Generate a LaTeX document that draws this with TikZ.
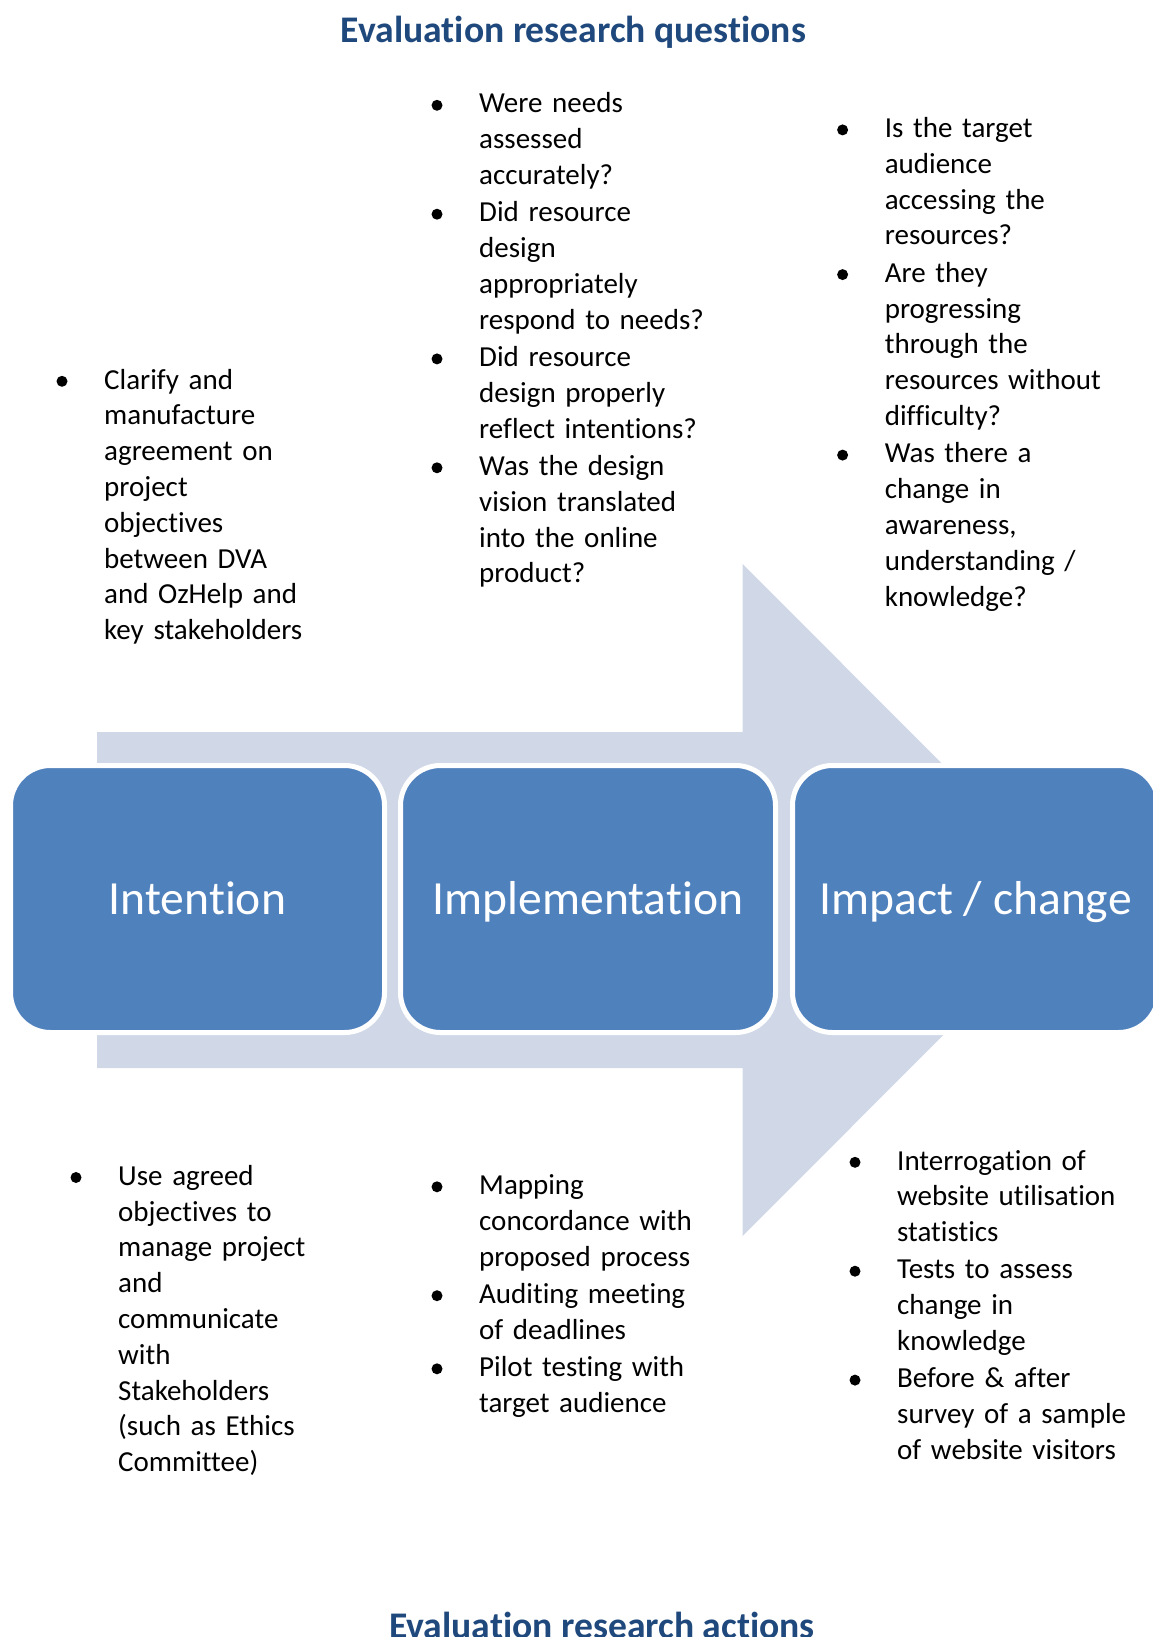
\documentclass[tikz,border=0pt]{standalone}
\usepackage{fontspec}
\setmainfont{Carlito}[Ligatures=NoCommon]
\definecolor{boxblue}{HTML}{4F81BD}
\definecolor{arrowfill}{HTML}{D0D8E8}
\definecolor{titleblue}{HTML}{1F497D}
% bullet dot in front of the first line of an item node
\newcommand\itemdot[1]{\fill (#1.base west) ++(-42,-7.7) circle[radius=5.5pt];}
\begin{document}
\begin{tikzpicture}[x=1pt,y=-1pt,
  stage/.style={draw=white, line width=5pt, fill=boxblue, rounded corners=40pt,
    minimum height=267pt, inner sep=0pt, text=white,
    font=\fontsize{47.6}{57}\selectfont, text height=30.3pt, text depth=0pt},
  itm/.style={anchor=base west, text width=420pt, align=left, inner sep=0pt,
    font=\fontsize{29}{35.8}\selectfont},
  heading/.style={anchor=base, text=titleblue, inner sep=0pt,
    font=\fontsize{37.6}{45}\selectfont\bfseries}]
\useasboundingbox (0,0) rectangle (1152,1637);
\fill[white] (0,0) rectangle (1152,1637);

% broad process arrow behind the stages
\fill[arrowfill] (97,732) -- (742.7,732) -- (742.7,564) -- (1078,900)
  -- (742.7,1236) -- (742.7,1068) -- (97,1068) -- cycle;

% the three stages
\node[stage, minimum width=374pt] (intention) at (197.5,899) {Intention};
\node[stage, minimum width=375pt] (implementation) at (588,899) {Implementation};
\node[stage, minimum width=366pt] (impact) at (975.5,899) {Impact / change};

% headings
\node[heading] (qtitle) at (573.5,43) {Evaluation research questions};
\node[heading] (atitle) at (602,1638) {Evaluation research actions};

% questions: intention
\node[itm] (q1a) at (104,389) {Clarify and\\manufacture\\agreement on\\project\\objectives\\between DVA\\and OzHelp and\\key stakeholders};
\itemdot{q1a}

% questions: implementation
\node[itm] (q2a) at (479,113) {Were needs\\assessed\\accurately?};
\node[itm] (q2b) at (479,221.9) {Did resource\\design\\appropriately\\respond to needs?};
\node[itm] (q2c) at (479,366.6) {Did resource\\design properly\\reflect intentions?};
\node[itm] (q2d) at (479,475.5) {Was the design\\vision translated\\into the online\\product?};
\itemdot{q2a}\itemdot{q2b}\itemdot{q2c}\itemdot{q2d}

% questions: impact
\node[itm] (q3a) at (884.6,137.6) {Is the target\\audience\\accessing the\\resources?};
\node[itm] (q3b) at (884.6,282.3) {Are they\\progressing\\through the\\resources without\\difficulty?};
\node[itm] (q3c) at (884.6,462.8) {Was there a\\change in\\awareness,\\understanding /\\knowledge?};
\itemdot{q3a}\itemdot{q3b}\itemdot{q3c}

% actions: intention
\node[itm] (a1a) at (118,1185.2) {Use agreed\\objectives to\\manage project\\and\\communicate\\with\\Stakeholders\\(such as Ethics\\Committee)};
\itemdot{a1a}

% actions: implementation
\node[itm] (a2a) at (479,1194.5) {Mapping\\concordance with\\proposed process};
\node[itm] (a2b) at (479,1303.4) {Auditing meeting\\of deadlines};
\node[itm] (a2c) at (479,1376.5) {Pilot testing with\\target audience};
\itemdot{a2a}\itemdot{a2b}\itemdot{a2c}

% actions: impact
\node[itm] (a3a) at (897,1170) {Interrogation of\\website utilisation\\statistics};
\node[itm] (a3b) at (897,1278.9) {Tests to assess\\change in\\knowledge};
\node[itm] (a3c) at (897,1387.8) {Before \& after\\survey of a sample\\of website visitors};
\itemdot{a3a}\itemdot{a3b}\itemdot{a3c}
\end{tikzpicture}
\end{document}
